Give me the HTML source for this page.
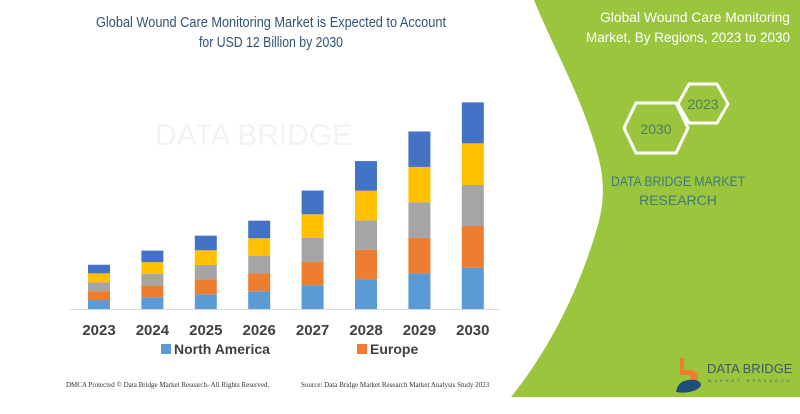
<!DOCTYPE html>
<html><head><meta charset="utf-8"><style>
body{margin:0;background:#fff;}
svg{display:block;font-family:"Liberation Sans",sans-serif;}
</style></head><body>
<svg id="c" width="800" height="414" viewBox="0 0 800 414">
<path d="M534,0 L800,0 L800,397 L511,397 C545,355 575,300 595,235 C608,195 604,170 590,130 C575,85 550,40 534,0 Z" fill="#9bc53d"/>
<g opacity="0.06">
<text x="155" y="145" font-size="30" fill="#333">DATA BRIDGE</text>
</g>
<text x="271" y="27" text-anchor="middle" font-size="14.5" textLength="350" lengthAdjust="spacingAndGlyphs" fill="#2f5476">Global Wound Care Monitoring Market is Expected to Account</text>
<text x="271" y="47" text-anchor="middle" font-size="14.5" textLength="144" lengthAdjust="spacingAndGlyphs" fill="#2f5476">for USD 12 Billion by 2030</text>
<g id="bars"></g>
<line x1="70" y1="309.5" x2="500" y2="309.5" stroke="#d9d9d9"/>
<g id="xlabels"></g>
<rect x="161" y="344" width="10" height="10" fill="#5b9bd5"/>
<text x="174" y="354" font-size="14" font-weight="bold" fill="#404040">North America</text>
<rect x="357" y="344" width="10" height="10" fill="#ed7d31"/>
<text x="370" y="354" font-size="14" font-weight="bold" fill="#404040">Europe</text>
<text x="66" y="387" font-size="7" font-family="Liberation Serif,serif" fill="#333">DMCA Protected © Data Bridge Market Research- All Rights Reserved.</text>
<text x="301" y="387" font-size="7" font-family="Liberation Serif,serif" fill="#333">Source: Data Bridge Market Research Market Analysis Study 2023</text>
<text x="790" y="22" text-anchor="end" font-size="14" textLength="190" lengthAdjust="spacingAndGlyphs" fill="#fff">Global Wound Care Monitoring</text>
<text x="790" y="42" text-anchor="end" font-size="14" textLength="204" lengthAdjust="spacingAndGlyphs" fill="#fff">Market, By Regions, 2023 to 2030</text>
<polygon points="636,103 676,103 688,128 676,153 636,153 624,128" fill="none" stroke="#fff" stroke-width="3"/>
<polygon points="689,84 717,84 728,104 717,123 689,123 678,104" fill="none" stroke="#fff" stroke-width="3"/>
<text x="656" y="134" text-anchor="middle" font-size="14" fill="#4a7f5a">2030</text>
<text x="703" y="109" text-anchor="middle" font-size="14" fill="#4a7f5a">2023</text>
<text x="678" y="186" text-anchor="middle" font-size="14" textLength="134" lengthAdjust="spacingAndGlyphs" fill="#3f7a78">DATA BRIDGE MARKET</text>
<text x="678" y="205" text-anchor="middle" font-size="14" fill="#3f7a78">RESEARCH</text>
<g>
<path d="M680,358 L684,358 L684,370 Q700,368 698,380 L690,380 Q692,374 684,375 L680,375 Z" fill="#ed7d31"/>
<path d="M676,392 Q678,378 696,380 Q706,384 696,390 Q686,394 676,392 Z" fill="#1f4e79"/>
<text x="707" y="373" font-size="13" fill="#3d5a6c">DATA BRIDGE</text>
<text x="708" y="382" font-size="4" letter-spacing="3" fill="#3d5a6c">MARKET RESEARCH</text>
</g>
</svg>
<script>
const years=["2023","2024","2025","2026","2027","2028","2029","2030"];
const northAmerica=[0.52,0.68,0.86,1.03,1.38,1.72,2.07,2.40];
const europe=[0.52,0.68,0.85,1.03,1.37,1.72,2.06,2.42];
const seriesGray=[0.51,0.68,0.85,1.02,1.38,1.71,2.06,2.38];
const seriesYellow=[0.52,0.68,0.85,1.03,1.37,1.72,2.06,2.42];
const seriesBlue=[0.50,0.67,0.85,1.02,1.38,1.72,2.06,2.38];
const series=[northAmerica,europe,seriesGray,seriesYellow,seriesBlue];
const colors=["#5b9bd5","#ed7d31","#a5a5a5","#ffc000","#4472c4"];
const names=["north-america","europe","gray-region","yellow-region","blue-region"];
const NS="http://www.w3.org/2000/svg";
const y0=309,pxPer=17.22;
function yScale(v){return y0-v*pxPer;}
function xScale(i){return 88+i*53.4;}
const bw=22;
const g=document.getElementById('bars'),xl=document.getElementById('xlabels');
years.forEach((yr,i)=>{
  let acc=0;
  series.forEach((s,k)=>{
    const r=document.createElementNS(NS,'rect');
    const top=yScale(acc+s[i]),bot=yScale(acc);
    r.setAttribute('x',xScale(i));r.setAttribute('width',bw);
    r.setAttribute('y',top);r.setAttribute('height',bot-top);
    r.setAttribute('fill',colors[k]);
    
    
    g.appendChild(r);acc+=s[i];
  });
  const t=document.createElementNS(NS,'text');
  t.setAttribute('x',xScale(i)+bw/2);t.setAttribute('y',335);
  t.setAttribute('text-anchor','middle');t.setAttribute('font-size','15');
  t.setAttribute('font-weight','bold');t.setAttribute('fill','#404040');
  t.textContent=yr;
  
  
  xl.appendChild(t);
});
</script>
</body></html>
